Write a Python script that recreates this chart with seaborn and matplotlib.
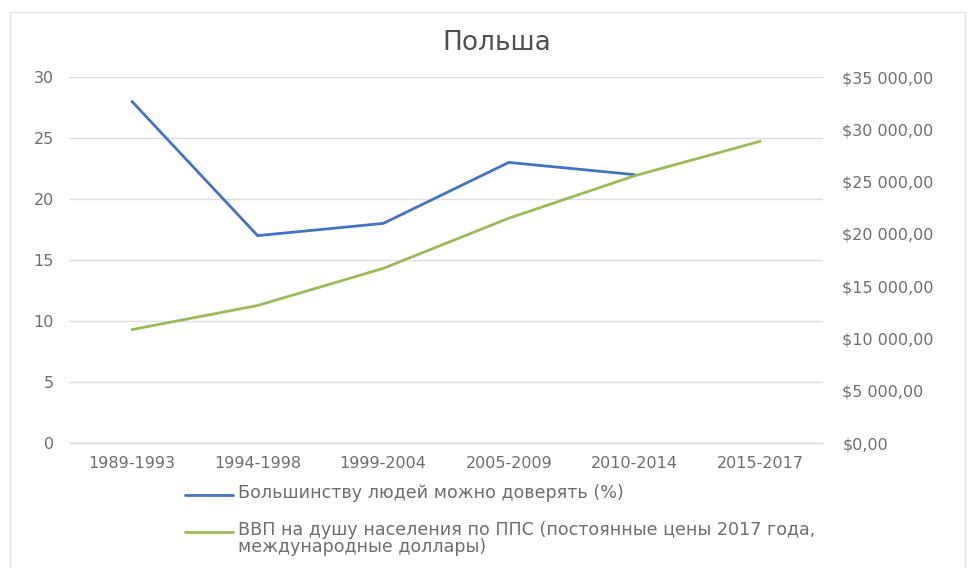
import numpy as np
import pandas as pd
import seaborn as sns
import matplotlib.pyplot as plt
from matplotlib.ticker import FuncFormatter, MultipleLocator
from matplotlib.lines import Line2D
from matplotlib.patches import Rectangle

# Data
periods = ['1989-1993', '1994-1998', '1999-2004', '2005-2009', '2010-2014', '2015-2017']
trust_pct = [28, 17, 18, 23, 22, np.nan]
gdp_ppp = [10850, 13150, 16700, 21500, 25550, 28850]

trust_label = 'Большинству людей можно доверять (%)'
gdp_label = 'ВВП на душу населения по ППС (постоянные цены 2017 года,\nмеждународные доллары)'

df = pd.DataFrame({'period': periods, 'trust': trust_pct, 'gdp': gdp_ppp})

sns.set_theme(style='white')
plt.rcParams['font.family'] = ['DejaVu Sans']

blue = '#4472C4'
green = '#9BBB59'
grey = '#6E6E6E'

fig = plt.figure(figsize=(9.71, 5.68), dpi=100)
ax = fig.add_axes([0.0712, 0.22, 0.7762, 0.6444])
ax2 = ax.twinx()

sns.lineplot(data=df, x='period', y='trust', ax=ax, color=blue, linewidth=2.0)
sns.lineplot(data=df, x='period', y='gdp', ax=ax2, color=green, linewidth=2.0)

ax.set_xlim(-0.5, len(periods) - 0.5)
ax.set_ylim(0, 30)
ax.yaxis.set_major_locator(MultipleLocator(5))
ax2.set_ylim(0, 35000)
ax2.yaxis.set_major_locator(MultipleLocator(5000))


def money(v, pos):
    return '$' + f'{v:,.2f}'.replace(',', ' ').replace('.', ',')


ax2.yaxis.set_major_formatter(FuncFormatter(money))

ax.grid(axis='y', color='#DDDDDD', linewidth=1)
ax.axhline(0, color='#DDDDDD', linewidth=1, clip_on=False, zorder=0)
ax.set_axisbelow(True)
for a in (ax, ax2):
    for s in a.spines.values():
        s.set_visible(False)
    a.set_xlabel('')
    a.set_ylabel('')
    a.tick_params(length=0, labelsize=11.5, colors=grey)

ax.tick_params(axis='y', pad=11)
ax2.tick_params(axis='y', pad=14)
ax.tick_params(axis='x', pad=9)

# chart border
fig.add_artist(Rectangle((10 / 971, -0.01), 955 / 971, 1 - 12 / 568 + 0.01,
                         transform=fig.transFigure, fill=False,
                         edgecolor='#E2E2E2', linewidth=1))

fig.text(497 / 971, 1 - 43 / 568, 'Польша', ha='center', va='center',
         fontsize=19, color='#505050')

# legend below the plot, drawn by hand so the handle sits on the first text line
legend_rows = [(blue, trust_label, 1 - 495 / 568), (green, gdp_label, 1 - 532 / 568)]
for color, label, y in legend_rows:
    fig.add_artist(Line2D([185 / 971, 233 / 971], [y, y], color=color, linewidth=2.0,
                          transform=fig.transFigure))
    fig.text(238 / 971, y + 0.0195, label, ha='left', va='top', fontsize=12.6,
             color=grey, linespacing=0.9)

fig.savefig('out.png', dpi=100)
